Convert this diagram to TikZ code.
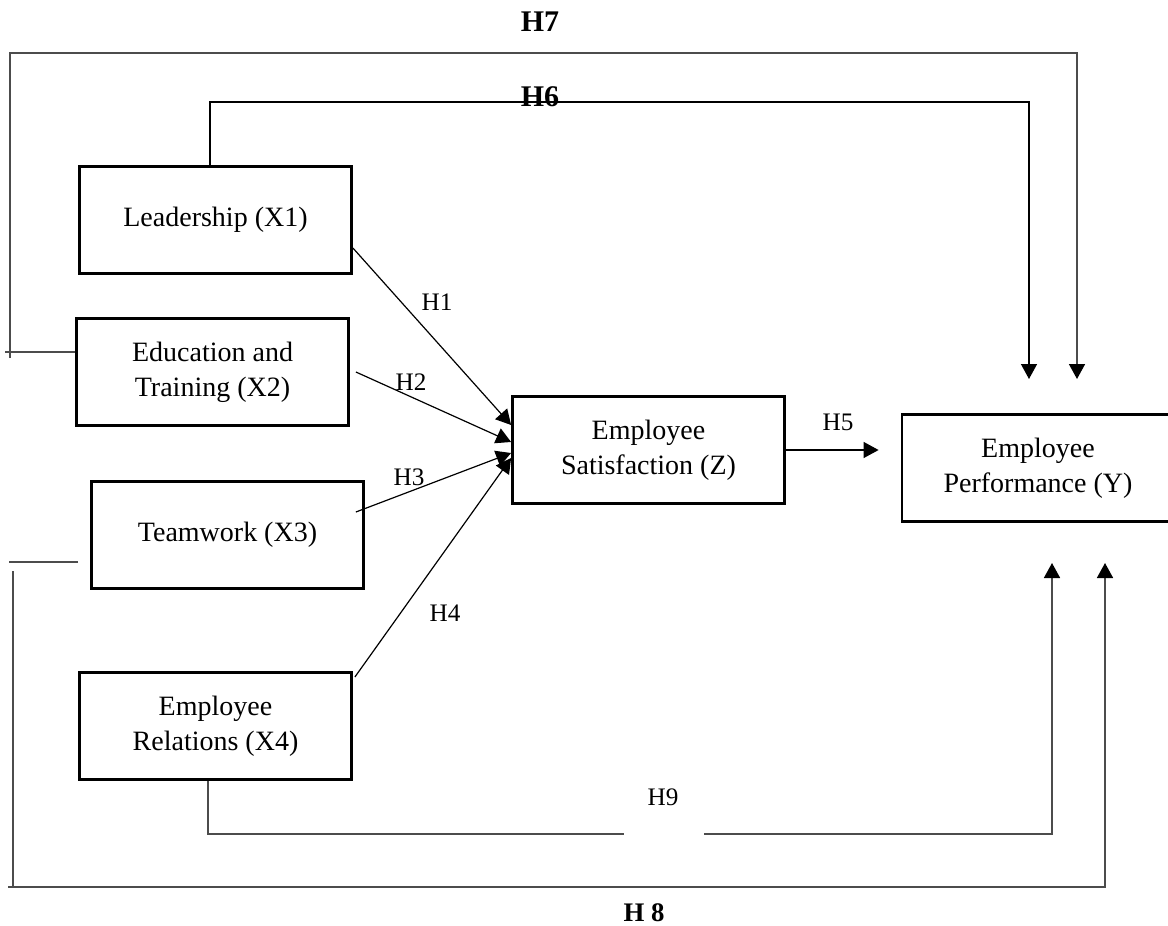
\documentclass[tikz,border=0pt]{standalone}
\usepackage{fontspec}
\setmainfont{Liberation Serif}
\usetikzlibrary{arrows.meta,calc}

\begin{document}
\begin{tikzpicture}[x=0.5pt,y=-0.5pt,
        var/.style={rectangle, draw, line width=1.4pt, minimum width=136pt, minimum height=53.6pt, inner sep=0pt, align=center, font=\fontsize{14}{17.5}\selectfont},
        hyp/.style={font=\fontsize{12.6}{14}\selectfont},
        hypb/.style={font=\bfseries\fontsize{15}{17}\selectfont},
        arr/.style={-{Triangle[length=7.5pt,width=8pt,color=black]}},
        link/.style={line width=0.6pt},
        grey/.style={line width=0.8pt, black!70}]
        \useasboundingbox (0,0) rectangle (1168,926);
        % variables
        \node [var] (lead) at (215.5,220) {Leadership (X1)};
        \node [var] (edu) at (212.5,372) {Education and\\Training (X2)};
        \node [var] (team) at (227.5,535) {Teamwork (X3)};
        \node [var] (rel) at (215.5,726) {Employee\\Relations (X4)};
        \node [var] (sat) at (648.5,450) {Employee\\Satisfaction (Z)};
        \node [var] (perf) at (1038,468) {Employee\\Performance (Y)};
        % direct paths
        \draw [link, arr] ([yshift=-14pt]lead.east) -- ([yshift=12.5pt]sat.west);
        \draw [link, arr] ([xshift=3pt]edu.east) -- ([yshift=4pt]sat.west);
        \draw [link, arr] ([xshift=-4.5pt,yshift=11.5pt]team.east) -- ([yshift=-1.5pt]sat.west);
        \draw [link, arr] ([xshift=1pt,yshift=-3pt]rel.north east) -- ([yshift=-4pt]sat.west);
        \coordinate (h5in) at ([xshift=-11pt]perf.west |- sat.east);
        \draw [link, arr] (sat.east) -- (h5in);
        % paths to performance
        \coordinate (h6in) at ([xshift=-4.5pt,yshift=17pt]perf.north);
        \coordinate (h7in) at ([xshift=19.5pt,yshift=17pt]perf.north);
        \coordinate (h8in) at ([xshift=33.5pt,yshift=-20pt]perf.south);
        \coordinate (h9in) at ([xshift=7pt,yshift=-20pt]perf.south);
        \draw [line width=0.7pt, arr] ([xshift=-2.75pt]lead.north) -- ++(0,-63) -| (h6in);
        \draw [grey] ([yshift=10pt]edu.west) -- ++(-70,0);
        \draw [grey, arr] ([xshift=-32.5pt,yshift=7pt]edu.west) -- ++(0,-305) -| (h7in);
        \draw [grey] ([xshift=-6pt,yshift=-13.5pt]team.west) -- ++(-69,0);
        \draw [grey, arr] ([xshift=-38.5pt,yshift=-18pt]team.west) -- ++(0,316) -| (h8in);
        \draw [grey] ([xshift=-38.5pt,yshift=-176pt]team.west) -- ++(-5,0);
        \draw [grey] ([xshift=-3.75pt]rel.south) |- ++(416,53);
        \draw [grey, arr] ([xshift=244.25pt,yshift=-26.5pt]rel.south) -| (h9in);
        % labels
        \node [hyp] (h1) at (437,302) {H1};
        \node [hyp] (h2) at (411,382) {H2};
        \node [hyp] (h3) at (409,477) {H3};
        \node [hyp] (h4) at (445,613) {H4};
        \node [hyp] (h5) at (838,422) {H5};
        \node [hypb] (h6) at (540,97) {H6};
        \node [hypb] (h7) at (540,22) {H7};
        \node [hyp] (h9) at (663,797) {H9};
        \node [hypb, font=\bfseries\fontsize{13.4}{15}\selectfont] (h8) at (644,913) {H 8};
    \end{tikzpicture}
\end{document}
